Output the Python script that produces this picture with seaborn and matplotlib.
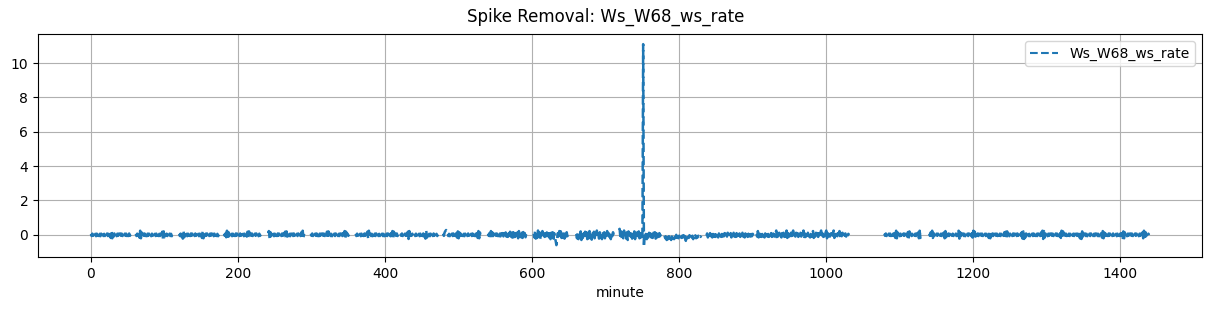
import numpy as np
import pandas as pd
import matplotlib
matplotlib.use("Agg")
import matplotlib.pyplot as plt
from matplotlib.lines import Line2D
import seaborn as sns

title = "Spike Removal: Ws_W68_ws_rate"
series_name = "Ws_W68_ws_rate"
x_label = "minute"
x_ticks = [0, 200, 400, 600, 800, 1000, 1200, 1400]
y_ticks = [0, 2, 4, 6, 8, 10]

# first minute of each continuous run of data (gaps between runs are missing data)
seg_starts = [0, 61, 120, 181, 241, 299, 360, 421, 440, 479, 540, 602, 660, 718,
              780, 837, 905, 1079, 1140]

# ws_rate values per minute, in hundredths
seg_01 = [6, -7, 7, -6, 8, -7, 6, -8, 7, -6, 7, -7, 6, -8, 7, -6, 8, -7, 6, -7,
          7, -6, 8, -7, 6, -7, 14, -18, 24, -20, 16, -10, 7, -7, 6, -8, 7, -6, 7, -7,
          8, -6, 7, -7, 6, -8, 7, -6, 7, -7, 6, -7, 8, -6, 2]
seg_02 = [6, -7, 7, -6, 10, -16, 24, -20, 14, -7, 7, -6, 8, -7, 6, -8, 7, -6, 7, -7,
          6, -8, 7, -6, 8, -7, 6, -7, 7, -6, 8, -7, 6, -7, 7, -10, 18, -22, 20, -14,
          7, -6, 7, -7, 8, -6, 7, -7, 6, -8, 7, -2]
seg_03 = [6, -7, 7, -10, 16, -22, 20, -14, 8, -7, 6, -8, 7, -6, 7, -7, 8, -6, 7, -7,
          6, -7, 8, -6, 7, -7, 6, -8, 7, -6, 10, -18, 24, -20, 12, -7, 7, -6, 8, -7,
          6, -7, 7, -6, 8, -7, 6, -8, 7, -6, 7, -7, 6, -8, 2]
seg_04 = [7, -6, 8, -14, 24, -20, 16, -8, 7, -7, 6, -8, 7, -6, 7, -7, 8, -6, 7, -7,
          6, -7, 8, -6, 7, -7, 6, -8, 7, -6, 7, -10, 18, -20, 20, -10, 7, -6, 8, -7,
          6, -7, 7, -6, 8, -7, 6, -8, 7, -6, 2]
seg_05 = [10, 22, -20, 16, -8, 7, -7, 6, -8, 7, -6, 7, -7, 8, -6, 7, -7, 6, -7, 8,
          -6, 7, -10, 18, -20, 20, -10, 7, -7, 6, -8, 7, -6, 7, -7, 8, -6, 7, -7, 6,
          -7, 8, -6, 7, -7, 14, -22, 24, -16, 6]
seg_06 = [7, -6, 8, -7, 6, -7, 7, -6, 8, -7, 6, -8, 7, -6, 7, -7, 8, -6, 7, -7,
          6, -10, 18, -22, 20, -12, 7, -7, 6, -8, 7, -6, 7, -7, 8, -6, 7, -7, 6, -7,
          8, -6, 7, -7, 10, -16, 22, -24, 18, -10, 7, -6, 2]
seg_07 = [6, -7, 7, -6, 8, -7, 6, -8, 7, -6, 7, -7, 8, -6, 7, -10, 18, -22, 24, -14,
          7, -7, 6, -8, 7, -6, 7, -7, 8, -6, 7, -7, 6, -7, 8, -6, 7, -7, 6, -8,
          7, -6, 7, -7, 8, -6, 7, -7, 10, -18, 22, -24, 18, -10, 7, -6, 8, -7, 2]
seg_08 = [7, -6, 8, -7, 6, -8, 7, -6, 7, -10, 18, -24, 22, -14, 7, -6, 7, -2]
seg_09 = [6, -7, 7, -6, 8, -7, 6, -8, 7, -6, 7, -7, 8, -10, 18, -22, 24, -16, 8, -7,
          6, -8, 7, -6, 7, -7, 8, -6, 7, -7, 6, -7, 2]
seg_10 = [7, -6, 14, 22, 28, 20, 8, -7, 6, -8, 7, -6, 7, -7, 8, -6, 7, -7, 10, -16,
          20, -20, 14, -7, 7, -6, 8, -7, 6, -8, 7, -6, 7, -7, 8, -6, 7, -7, 6, -7,
          8, -6, 7, -7, 6, -8, 10, -18, 22, -20, 14, -7, 2]
seg_11 = [7, -6, 10, -16, 22, -20, 14, -7, 6, -8, 7, -6, 8, -7, 6, -8, 7, -9, 8, -7,
          10, -9, 8, -12, 14, -10, 16, -12, 9, -14, 18, -10, 12, -16, 26, -14, 20, -12, 10, -16,
          14, -20, 22, -10, 16, -14, 12, -18, 16, -12, 10, -14, 8]
seg_12 = [5, -15, 20, -22, 12, -18, 25, -10, 15, -25, 10, -20, 22, -15, 5, -12, 18, -8, 14, -20,
          8, -15, 20, -25, 12, -10, 15, -22, 10, -18, -35, -60, -20, 10, -18, 22, -12, 20, -18, 10,
          -15, 18, -22, 12, -10, 15, -8, 0]
seg_13 = [5, -20, 15, -25, 10, -15, 20, -30, 12, -18, 8, -22, 18, -12, 15, -25, 10, -20, 22, -15,
          12, -28, 15, -10, 18, -20, 10, -15, 25, -12, 8, -22, 15, -18, 12, -25, 20, -10, 15, -20,
          8, -15, 22, -18, 10, -12, 18, -25, 12, -8, 15, 0]
seg_14 = [30, 35, -15, 20, -25, 12, -20, 25, -18, 10, -22, 15, -30, 20, -15, 10, -10, 18, -22, 12,
          -15, 20, -25, 10, -18, 15, -12, 20, -20, 10, -15, 12, -10, 1110, -70, 10, -20, 15, -25, 10,
          -15, 12, -20, 8, -15, 10, -18, 12, -10, 15, -22, 10, -15, 8, -12, 10, -8, 5, -5]
seg_15 = [-5, -20, -10, -30, -5, -25, -8, -20, -2, -30, -10, -22, -5, -25, -12, -18, 0, -25, -8, -20,
          -5, -22, -10, -18, -5, -15, -2, -28, -8, -35, -5, -20, -12, -18, -2, -22, -8, -15, -5, -25,
          -10, -18, -3, -20, -8, -15, -5, -18, -10, -12, -5]
seg_16 = [-5, 8, -15, 5, -12, 10, -8, 12, -15, 5, -10, 15, -12, 2, -8, 10, -15, 8, -5, 12,
          -12, 5, -10, 15, -8, 10, -12, 5, -10, 12, -8, 5, -2, 10, -15, 8, -5, 12, -10, 6,
          -12, 10, -8, 15, -5, 8, -12, 10, -6, 12, -10, 5, -15, 8, -5, 10, -12, 6, -8, 12,
          -10, 5, -8, 6, -2]
seg_17 = [5, -10, 22, -15, 8, -10, 12, -12, 5, -8, 10, -15, 8, -5, 12, -10, 5, -12, 8, -6,
          10, -12, 15, -8, 5, -10, 12, 25, -20, 10, -8, 12, -10, 5, -15, 10, -8, 12, -12, 8,
          -10, 25, -18, 10, -12, 8, -5, 12, -15, 10, 25, -20, 5, -10, 12, -8, 10, -12, 8, -5,
          12, -10, 8, -12, 25, -20, 8, -12, 10, -5, 12, -8, 10, -15, 5, -10, 12, 22, -18, 10,
          -10, 12, -8, 10, -12, 8, -15, 10, 25, -15, 8, -12, 10, -8, 12, 25, -20, 10, -8, 12,
          -10, 8, -12, 10, -5, 25, -18, 5, -10, 12, -8, 10, -12, 22, -15, 10, -8, 12, -10, 5,
          -5, 8, -10, 5, -8, 6, 0]
seg_18 = [7, -6, 8, -7, 6, -8, 7, -6, 7, -7, 8, -6, 7, -7, 10, -18, 24, -20, 14, -7,
          6, -8, 7, -6, 7, -7, 8, -6, 7, -7, 6, -10, 16, -22, 20, -10, 7, -7, 6, -8,
          7, -6, 7, -7, 8, -6, 14, -20, 24, -18, 7]
seg_19 = [7, -6, 14, -20, 24, -18, 10, -7, 6, -8, 7, -6, 7, -7, 8, -6, 7, -7, 6, -7,
          14, -20, 22, -14, 7, -6, 8, -7, 6, -8, 7, -6, 7, -7, 8, -6, 7, -7, 6, -7,
          24, -22, 16, -8, 7, -6, 8, -7, 6, -8, 7, -6, 7, -7, 8, -6, 7, -7, 10, -16,
          24, -22, 18, -10, 7, -6, 8, -7, 6, -8, 7, -6, 7, -7, 8, -6, 7, -7, 6, -7,
          10, -18, 22, -20, 14, -7, 8, -7, 6, -8, 7, -6, 7, -7, 8, -6, 7, -7, 6, -7,
          8, -6, 14, -20, 18, -24, 20, -14, 6, -8, 7, -6, 7, -7, 8, -6, 7, -7, 6, -7,
          8, -6, 7, -7, 6, -8, 16, -22, 20, -24, 22, -14, 7, -6, 8, -7, 6, -8, 7, -6,
          7, -7, 8, -6, 7, -7, 6, -7, 8, -6, 7, -7, 14, -20, 24, -24, 22, -16, 8, -7,
          6, -8, 7, -6, 7, -7, 8, -6, 7, -7, 6, -7, 8, -6, 7, -7, 6, -8, 10, -18,
          24, -22, 20, -14, 7, -6, 7, -7, 8, -6, 7, -7, 6, -7, 8, -6, 7, -7, 6, -8,
          7, -6, 7, -7, 14, -20, 22, -24, 20, -10, 7, -6, 8, -7, 6, -8, 7, -6, 7, -7,
          8, -6, 7, -7, 6, -7, 8, -6, 7, -7, 6, -8, 7, -6, 10, -16, 22, -20, 14, -7,
          7, -6, 7, -7, 8, -6, 7, -7, 6, -7, 8, -6, 7, -7, 6, -8, 7, -6, 7, -7,
          8, -6, 10, -18, 20, -20, 14, -7, 6, -8, 7, -6, 7, -7, 8, -6, 7, -7, 6, -7,
          8, -6, 7, -7, 6, -8, 7, -6, 7, -7, 14, -20, 24, -22, 16, -8, 7, -6, 7, 0]

segments = [seg_01, seg_02, seg_03, seg_04, seg_05, seg_06, seg_07, seg_08, seg_09, seg_10,
            seg_11, seg_12, seg_13, seg_14, seg_15, seg_16, seg_17, seg_18, seg_19]

frames = []
for i, (start, vals) in enumerate(zip(seg_starts, segments)):
    frames.append(pd.DataFrame({
        "minute": start + np.arange(len(vals)),
        "ws_rate": np.asarray(vals, dtype=float) / 100.0,
        "segment": i,
    }))
df = pd.concat(frames, ignore_index=True)

W, H = 1211, 311
fig = plt.figure(figsize=(W / 100, H / 100), dpi=100)
ax = fig.add_axes([38 / W, 1 - 257 / H, (1202 - 38) / W, (257 - 34) / H])

color = "#1f77b4"
sns.lineplot(data=df, x="minute", y="ws_rate", units="segment", estimator=None,
             color=color, linestyle="--", linewidth=1.8, ax=ax)

ax.set_xticks(x_ticks)
ax.set_yticks(y_ticks)
ax.grid(True)
ax.set_xlabel(x_label)
ax.set_ylabel("")
ax.margins(x=0.05, y=0.05)
handle = Line2D([], [], color=color, linestyle="--", linewidth=1.5)
ax.legend([handle], [series_name], loc="upper right")
fig.suptitle(title, y=1 - 17 / H, va="center", fontsize=12)

fig.savefig("out.png", dpi=100)
